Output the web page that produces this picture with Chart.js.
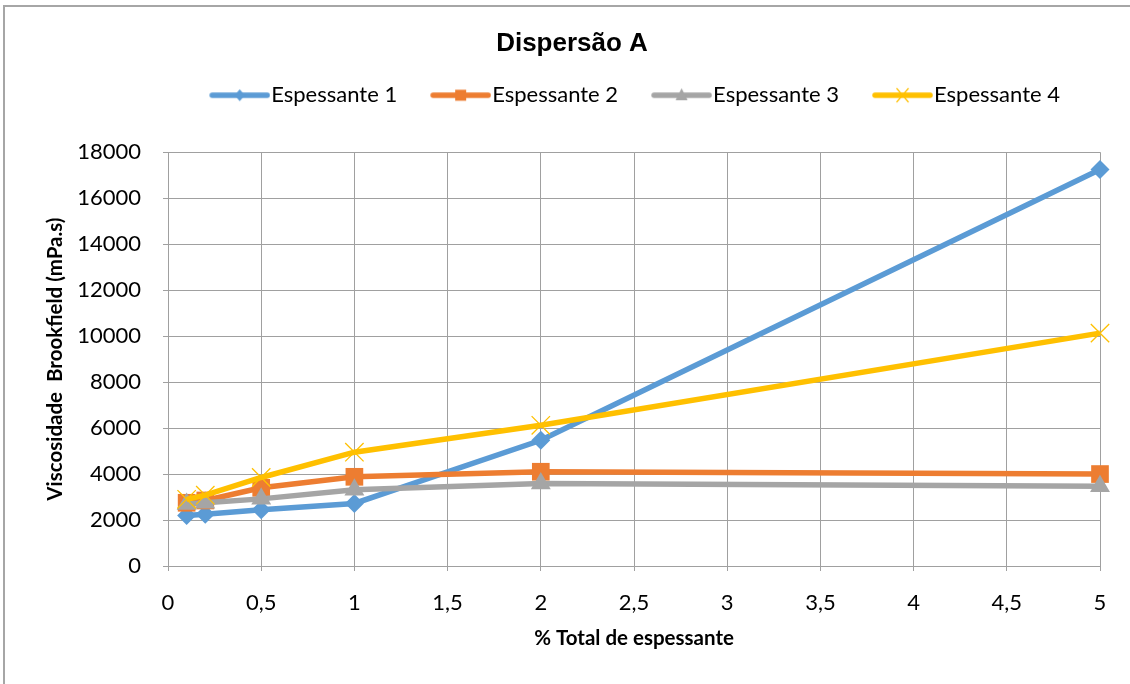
<!DOCTYPE html>
<html>
<head>
<meta charset="utf-8">
<script src="https://cdn.jsdelivr.net/npm/chart.js@4"></script>
<style>
  html, body { margin: 0; padding: 0; background: #fff; }
  #wrap { position: relative; width: 1130px; height: 684px; }
  #frame { position: absolute; left: 3px; top: 5px; right: 0; bottom: 0; border-left: 2px solid #a6a6a6; border-top: 2px solid #a6a6a6; }
  canvas { position: absolute; left: 0; top: 0; }
</style>
</head>
<body>
<div id="wrap">
  <div id="frame"></div>
  <canvas id="myChart" width="1130" height="684"></canvas>
</div>
<script>
// data
const xValues = [0.1, 0.2, 0.5, 1, 2, 5];
const esp1 = [2200, 2250, 2450, 2720, 5470, 17250];
const esp2 = [2750, 2850, 3400, 3880, 4100, 4000];
const esp3 = [2700, 2750, 2920, 3320, 3590, 3470];
const esp4 = [2900, 3080, 3850, 4950, 6120, 10130];
const seriesNames = ['Espessante 1', 'Espessante 2', 'Espessante 3', 'Espessante 4'];
const seriesColors = ['#5B9BD5', '#ED7D31', '#A5A5A5', '#FFC000'];

const tickFont = { family: 'Lato', size: 22 };
const axisTitleFont = { family: 'Lato', size: 20.5, weight: 'bold' };

function toPoints(ys) {
  return ys.map((y, i) => ({ x: xValues[i], y: y }));
}

// legend symbol: line with the marker in the middle
// (image is wider than the box, left part stays empty so the line sits next to the text)
function legendIcon(color, kind) {
  const c = document.createElement('canvas');
  c.width = 94; c.height = 20;
  const ctx = c.getContext('2d');
  ctx.strokeStyle = color;
  ctx.lineWidth = 5.5;
  ctx.lineCap = 'round';
  ctx.beginPath(); ctx.moveTo(36, 10); ctx.lineTo(91, 10); ctx.stroke();
  ctx.fillStyle = color;
  const cx = 63.5, cy = 10;
  ctx.beginPath();
  if (kind == 'diamond') {
    ctx.moveTo(cx, cy - 6); ctx.lineTo(cx + 5, cy); ctx.lineTo(cx, cy + 6); ctx.lineTo(cx - 5, cy); ctx.fill();
  } else if (kind == 'square') {
    ctx.rect(cx - 5.5, cy - 5.5, 11, 11); ctx.fill();
  } else if (kind == 'triangle') {
    ctx.moveTo(cx, cy - 7); ctx.lineTo(cx + 6, cy + 5); ctx.lineTo(cx - 6, cy + 5); ctx.fill();
  } else {
    ctx.lineWidth = 1.2; ctx.lineCap = 'butt';
    ctx.moveTo(cx - 6, cy - 7); ctx.lineTo(cx + 6, cy + 7);
    ctx.moveTo(cx + 6, cy - 7); ctx.lineTo(cx - 6, cy + 7);
    ctx.stroke();
  }
  return c;
}

const icons = [
  legendIcon(seriesColors[0], 'diamond'),
  legendIcon(seriesColors[1], 'square'),
  legendIcon(seriesColors[2], 'triangle'),
  legendIcon(seriesColors[3], 'cross')
];

// extra room under the legend, shift it left a bit, and nudge the title right
const layoutTweaks = {
  id: 'layoutTweaks',
  beforeLayout(chart) {
    const lg = chart.legend;
    if (lg && !lg._patched) {
      const fit = lg.fit.bind(lg);
      lg.fit = function() {
        fit();
        this.height += 36;
        this.lineWidths[0] += 30;
      };
      lg._patched = true;
    }
  },
  afterLayout(chart) {
    if (chart.titleBlock) chart.titleBlock.left += 44;
  }
};

const data = {
  datasets: [{
    label: seriesNames[0],
    data: toPoints(esp1),
    borderColor: seriesColors[0],
    backgroundColor: seriesColors[0],
    borderWidth: 5.5,
    pointStyle: 'rectRot',
    pointRadius: 9.5,
    pointBorderWidth: 0,
    clip: false,
    order: 4
  }, {
    label: seriesNames[1],
    data: toPoints(esp2),
    borderColor: seriesColors[1],
    backgroundColor: seriesColors[1],
    borderWidth: 5.5,
    pointStyle: 'rect',
    pointRadius: 12.5,
    pointBorderWidth: 0,
    clip: false,
    order: 3
  }, {
    label: seriesNames[2],
    data: toPoints(esp3),
    borderColor: seriesColors[2],
    backgroundColor: seriesColors[2],
    borderWidth: 5.5,
    pointStyle: 'triangle',
    pointRadius: 11.5,
    pointBorderWidth: 0,
    clip: false,
    order: 2
  }, {
    label: seriesNames[3],
    data: toPoints(esp4),
    borderColor: seriesColors[3],
    backgroundColor: seriesColors[3],
    borderWidth: 5.5,
    pointStyle: 'crossRot',
    pointRadius: 13,
    pointBorderWidth: 1.3,
    clip: false,
    order: 1
  }]
};

const chart = new Chart(document.getElementById('myChart'), {
  type: 'line',
  data: data,
  plugins: [layoutTweaks],
  options: {
    responsive: false,
    animation: false,
    layout: { padding: { top: 10, right: 30, left: 0, bottom: 0 } },
    elements: { line: { tension: 0 } },
    plugins: {
      title: {
        display: true,
        text: 'Dispersão A',
        color: '#000',
        font: { family: 'Liberation Sans', size: 26, weight: 'bold' },
        padding: { top: 18, bottom: 15 }
      },
      legend: {
        position: 'top',
        align: 'end',
        labels: {
          color: '#000',
          font: { family: 'Lato', size: 22 },
          usePointStyle: true,
          pointStyleWidth: 74,
          padding: 10,
          generateLabels: function(ch) {
            return ch.data.datasets.map((ds, i) => ({
              text: ds.label,
              pointStyle: icons[i],
              fillStyle: ds.borderColor,
              strokeStyle: ds.borderColor,
              lineWidth: 0,
              hidden: false,
              datasetIndex: i,
              fontColor: '#000'
            }));
          }
        }
      },
      tooltip: { enabled: false }
    },
    scales: {
      x: {
        type: 'linear',
        min: 0,
        max: 5,
        ticks: {
          stepSize: 0.5,
          color: '#000',
          font: tickFont,
          padding: 19,
          maxRotation: 0,
          callback: v => String(v).replace('.', ',')
        },
        grid: { color: '#a0a0a0', tickLength: 5 },
        border: { color: '#a0a0a0' },
        title: {
          display: true,
          text: '% Total de espessante',
          color: '#000',
          font: axisTitleFont,
          padding: { top: 0, bottom: 33 }
        },
        afterFit: s => { s.height = 118; s.paddingLeft = 0; s.paddingRight = 0; }
      },
      y: {
        min: 0,
        max: 18000,
        ticks: {
          stepSize: 2000,
          color: '#000',
          font: tickFont,
          padding: 22,
          callback: v => String(v)
        },
        grid: { color: '#a0a0a0', tickLength: 5 },
        border: { color: '#a0a0a0' },
        title: {
          display: true,
          text: 'Viscosidade  Brookfield (mPa.s)',
          color: '#000',
          font: axisTitleFont,
          padding: { top: 43, bottom: 0 }
        },
        afterFit: s => { s.width = 168; }
      }
    }
  }
});
</script>
</body>
</html>
